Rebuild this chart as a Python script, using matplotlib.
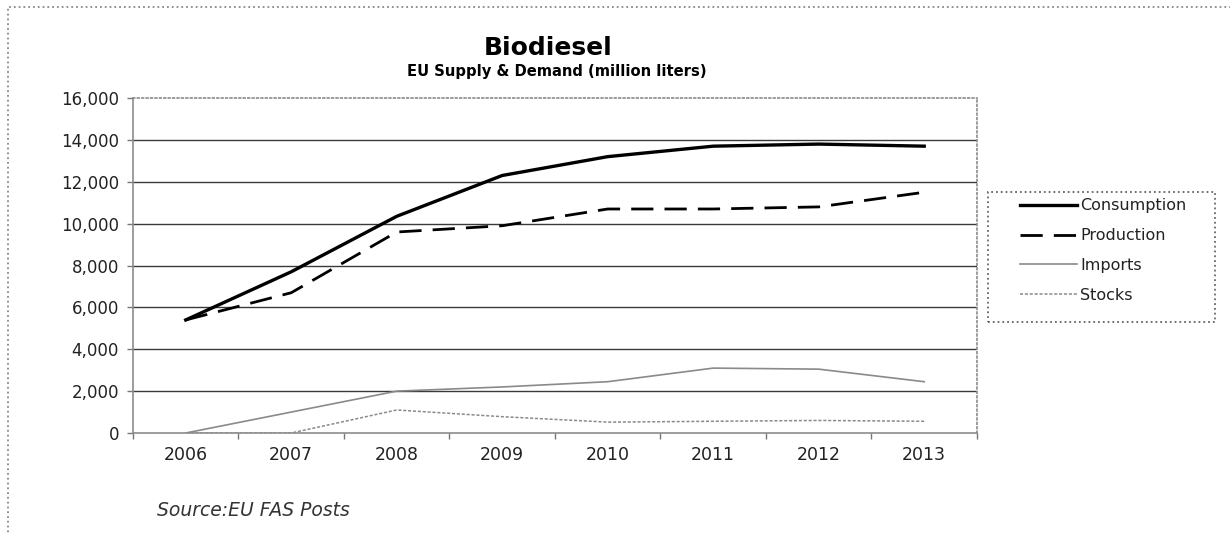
import matplotlib.pyplot as plt
from matplotlib.patches import Rectangle
from matplotlib.ticker import FuncFormatter, FixedLocator

plt.rcParams['font.family'] = ['DejaVu Sans']

years = ['2006', '2007', '2008', '2009', '2010', '2011', '2012', '2013']
consumption = [5400, 7700, 10350, 12300, 13200, 13700, 13800, 13700]
production = [5400, 6700, 9600, 9900, 10700, 10700, 10800, 11500]
imports = [0, 1000, 2000, 2200, 2450, 3100, 3050, 2450]
stocks = [0, 0, 1100, 780, 520, 560, 600, 560]

fig = plt.figure(figsize=(12.3, 5.33), dpi=100)
ax = fig.add_axes([0.1081, 0.1876, 0.6862, 0.6285])

x = list(range(len(years)))
ax.plot(x, consumption, color='black', lw=2.4, label='Consumption', zorder=5)
ax.plot(x, production, color='black', lw=2.0, ls=(0, (8, 4)), label='Production', zorder=5)
ax.plot(x, imports, color='#8a8a8a', lw=1.2, label='Imports', zorder=4)
ax.plot(x, stocks, color='#8a8a8a', lw=1.1, ls=(0, (2, 1.2)), label='Stocks', zorder=4)

ax.set_xlim(-0.5, len(years) - 0.5)
ax.set_ylim(0, 16000)
ax.set_yticks(range(0, 16001, 2000))
ax.yaxis.set_major_formatter(FuncFormatter(lambda v, p: f'{int(v):,}'))
ax.set_xticks(x)
ax.set_xticklabels(years)
ax.xaxis.set_minor_locator(FixedLocator([i + 0.5 for i in range(-1, len(years))]))

ax.tick_params(axis='x', which='major', length=0, pad=9, labelsize=12.5, colors='#222')
ax.tick_params(axis='x', which='minor', length=4, width=1, color='#777', direction='out')
ax.tick_params(axis='y', length=4, width=1, color='#777', pad=6, labelsize=12, colors='#222')

for v in range(2000, 16000, 2000):
    ax.axhline(v, color='#3a3a3a', lw=1.0, zorder=1)

for side in ['left', 'bottom', 'right', 'top']:
    ax.spines[side].set_color('#8c8c8c')
    ax.spines[side].set_linewidth(1.2)
ax.spines['top'].set_linestyle(':')
ax.spines['right'].set_linestyle(':')

# legend entries without their own frame; the box is drawn separately
leg = fig.legend(loc='upper left', bbox_to_anchor=(0.829, 0.628),
                 borderpad=0, borderaxespad=0, frameon=False,
                 handlelength=3.6, handletextpad=0.2, labelspacing=0.93,
                 fontsize=11.5)
for t in leg.get_texts():
    t.set_color('#222')
fig.patches.append(Rectangle((0.803, 0.396), 0.185, 0.244, transform=fig.transFigure,
                             fill=False, ls=':', lw=1.3, ec='#666'))

fig.text(0.446, 0.897, 'Biodiesel', ha='center', va='baseline',
         fontsize=18, fontweight='bold')
fig.text(0.453, 0.857, 'EU Supply & Demand (million liters)', ha='center',
         va='baseline', fontsize=10.6, fontweight='bold')
fig.text(0.128, 0.043, 'Source:EU FAS Posts', ha='left', va='center',
         fontsize=13.5, style='italic', color='#333')

# dotted frame around the whole chart
fig.patches.append(Rectangle((0.0065, -0.1), 1.1, 1.087, transform=fig.transFigure,
                             fill=False, ls=':', lw=1.3, ec='#888', clip_on=False))

fig.savefig('out.png', dpi=100)
